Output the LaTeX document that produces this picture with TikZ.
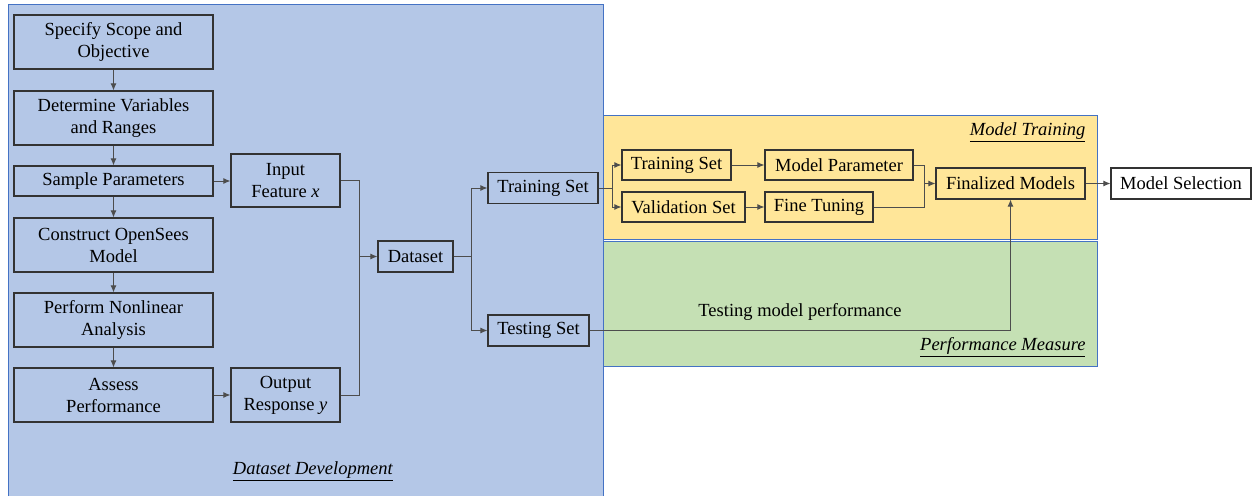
\documentclass[tikz,border=0pt]{standalone}
\usepackage{fontspec}
\setmainfont{Liberation Serif}
\usetikzlibrary{arrows.meta}
\definecolor{paneblue}{HTML}{B4C7E7}
\definecolor{paneyellow}{HTML}{FFE699}
\definecolor{panegreen}{HTML}{C5E0B4}
\definecolor{paneedge}{HTML}{4472C4}
\definecolor{boxedge}{HTML}{333333}
\definecolor{wire}{HTML}{4D4D4D}

\begin{document}
\begin{tikzpicture}[x=1pt, y=-1pt,
  font=\fontsize{18.5}{22}\selectfont,
  stepbox/.style={draw=boxedge, line width=1.1pt, align=center, inner sep=0pt},
  wide/.style={stepbox, minimum width=199pt, minimum height=54pt},
  slim/.style={stepbox, minimum height=30pt},
  wire/.style={draw=wire, line width=1pt},
  arr/.style={wire, -{Latex[length=7pt, width=6pt]}}]
\useasboundingbox (0, 0) rectangle (1252, 496);
\fill [paneblue] (8, 4) rectangle (603, 496);
\draw [paneedge, line width=1pt] (8, 496) -- (8, 4) -- (603, 4) -- (603, 496);
\draw [paneedge, line width=1pt, fill=paneyellow] (603, 115) rectangle (1097, 239);
\draw [paneedge, line width=1pt, fill=panegreen] (603, 241) rectangle (1097, 366);
\node [wide] (scope) at (113.5, 42) {Specify Scope and\\Objective};
\node [wide] (vars) at (113.5, 118) {Determine Variables\\and Ranges};
\node [slim, minimum width=199pt] (sample) at (113.5, 181) {Sample Parameters};
\node [wide] (build) at (113.5, 245) {Construct OpenSees\\Model};
\node [wide] (analysis) at (113.5, 320) {Perform Nonlinear\\Analysis};
\node [wide] (assess) at (113.5, 395) {Assess\\Performance};
\node [stepbox, minimum width=109pt, minimum height=53pt] (input) at (285.5, 180.5) {Input\\Feature \textit{x}};
\node [stepbox, minimum width=109pt, minimum height=54pt] (output) at (285.5, 395) {Output\\Response \textit{y}};
\node [slim, minimum width=75pt, minimum height=31pt] (dataset) at (415.5, 256.5) {Dataset};
\node [slim, minimum width=110pt, minimum height=31pt] (trainset) at (543, 188) {Training Set};
\node [slim, minimum width=101pt, minimum height=31pt] (testset) at (538.5, 330.5) {Testing Set};
\node [slim, minimum width=109pt] (subtrain) at (676.5, 165) {Training Set};
\node [slim, minimum width=123pt] (valid) at (683.5, 207) {Validation Set};
\node [slim, minimum width=148pt] (param) at (839, 165) {Model Parameter};
\node [slim, minimum width=108pt] (tuning) at (819, 207) {Fine Tuning};
\node [slim, minimum width=149pt, minimum height=31pt] (final) at (1010.5, 183.5) {Finalized Models};
\node [slim, minimum width=140pt, minimum height=31pt, fill=white] (select) at (1181, 183.5) {Model Selection};
\node (devlabel) at (313, 471) {\underline{\textit{Dataset Development}}};
\node [anchor=east] (trainlabel) at (1089, 132) {\underline{\textit{Model Training}}};
\node [anchor=east] (perflabel) at (1089, 347) {\underline{\textit{Performance Measure}}};
\node (testlabel) at (800, 312) {Testing model performance};
\coordinate (merge) at (359, 256.5);
\coordinate (split) at (471, 256.5);
\coordinate (fork) at (612, 188);
\coordinate (join) at (924, 183.5);
\draw [arr] (scope) -- (vars);
\draw [arr] (vars) -- (sample);
\draw [arr] (sample) -- (build);
\draw [arr] (build) -- (analysis);
\draw [arr] (analysis) -- (assess);
\draw [arr] (sample.east) -- (sample.east -| input.west);
\draw [arr] (assess) -- (output);
\draw [wire] (input.east) -| (merge);
\draw [wire] (output.east) -| (merge);
\draw [arr] (merge) -- (dataset);
\draw [wire] (dataset) -- (split);
\draw [arr] (split) |- (trainset);
\draw [arr] (split) |- (testset);
\draw [wire] (trainset) -- (fork);
\draw [arr] (fork) |- (subtrain);
\draw [arr] (fork) |- (valid);
\draw [arr] (subtrain) -- (param);
\draw [arr] (valid) -- (tuning);
\draw [wire] (param.east) -| (join);
\draw [wire] (tuning.east) -| (join);
\draw [arr] (join) -- (final);
\draw [arr] (final) -- (select);
\draw [arr] (testset.east) -| (final.south);
\end{tikzpicture}
\end{document}
